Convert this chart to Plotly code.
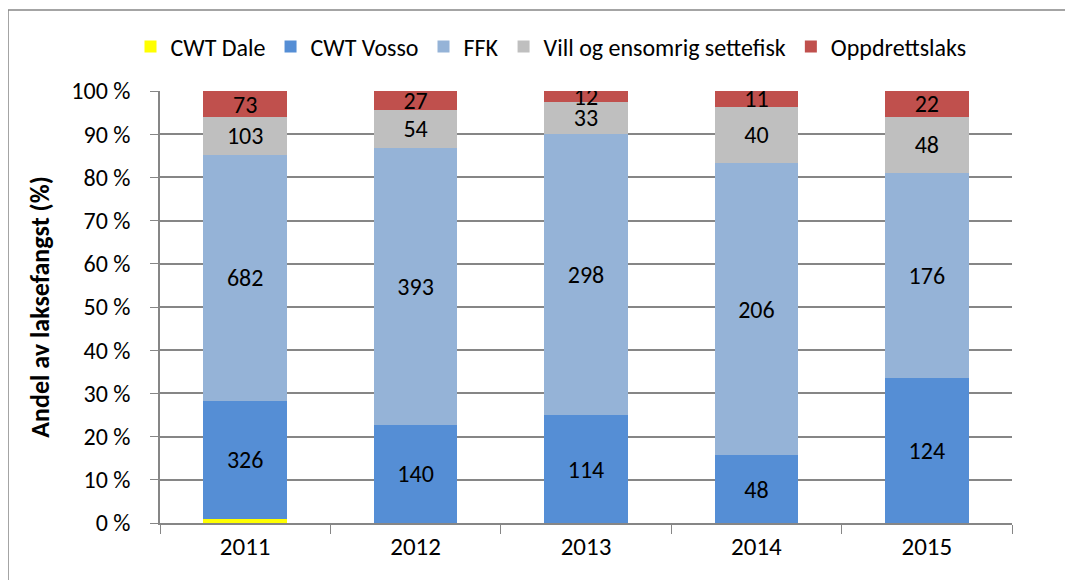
import plotly.graph_objects as go

years = ['2011', '2012', '2013', '2014', '2015']
cwt_dale = [12, 0, 0, 0, 0]
cwt_vosso = [326, 140, 114, 48, 124]
ffk = [682, 393, 298, 206, 176]
vill = [103, 54, 33, 40, 48]
oppdrett = [73, 27, 12, 11, 22]

series = [
    ('CWT Dale', cwt_dale, '#FFFF00', False),
    ('CWT Vosso', cwt_vosso, '#558ED5', True),
    ('FFK', ffk, '#95B3D7', True),
    ('Vill og ensomrig settefisk', vill, '#BFBFBF', True),
    ('Oppdrettslaks', oppdrett, '#C0504D', True),
]

FONT = 'Carlito, Lato, sans-serif'
FS = 24

# page has an 8px body margin; plot area spans page x 160..1012, y 91..523
PL, PT, PW, PH = 160, 91, 852, 432
OFF = 8
FIG_W, FIG_H = 1065, 572

fig = go.Figure()
for name, vals, col, show_text in series:
    fig.add_trace(go.Bar(
        name=name, x=years, y=vals,
        marker=dict(color=col, line=dict(width=0)),
        text=[str(v) for v in vals] if show_text else None,
        textposition='inside' if show_text else 'none',
        insidetextanchor='middle',
        textangle=0,
        textfont=dict(color='black', size=FS, family=FONT),
        width=0.49,
        hoverinfo='x+y+name',
    ))

fig.update_layout(
    barmode='stack',
    barnorm='percent',
    width=FIG_W, height=FIG_H,
    margin=dict(l=PL - OFF, r=FIG_W - (PL - OFF) - PW, t=PT - OFF, b=FIG_H - (PT - OFF) - PH,
                autoexpand=False),
    paper_bgcolor='white', plot_bgcolor='white',
    font=dict(family=FONT, size=FS, color='black'),
    uniformtext=dict(minsize=FS, mode='show'),
    legend=dict(orientation='h', xref='container', yref='container',
                x=(551 - OFF) / FIG_W, xanchor='center',
                y=1 - (47 - OFF) / FIG_H, yanchor='middle',
                font=dict(size=FS, family=FONT), itemwidth=30,
                bgcolor='rgba(0,0,0,0)', traceorder='normal'),
    xaxis=dict(type='category', showline=True, linecolor='#868686', linewidth=1.5,
               ticks='outside', tickson='boundaries', ticklen=9, tickcolor='#868686',
               tickfont=dict(size=FS + 1), showgrid=False),
    yaxis=dict(range=[0, 100], dtick=10, ticksuffix=' %', showline=True, linecolor='#868686',
               linewidth=1.5, ticks='outside', ticklen=8, tickcolor='#868686',
               ticklabelstandoff=15,
               gridcolor='#868686', gridwidth=1.5, tickfont=dict(size=FS),
               title=dict(text='<b>Andel av laksefangst (%)</b>', font=dict(size=FS + 2), standoff=14),
               zeroline=False),
    shapes=[dict(type='rect', xref='paper', yref='paper',
                 x0=(8 - PL) / PW, x1=1.2, y0=-0.3, y1=1 + (PT - 10) / PH,
                 line=dict(color='#868686', width=1.5), fillcolor='rgba(0,0,0,0)', layer='below')],
)

fig.write_html('out.html')
